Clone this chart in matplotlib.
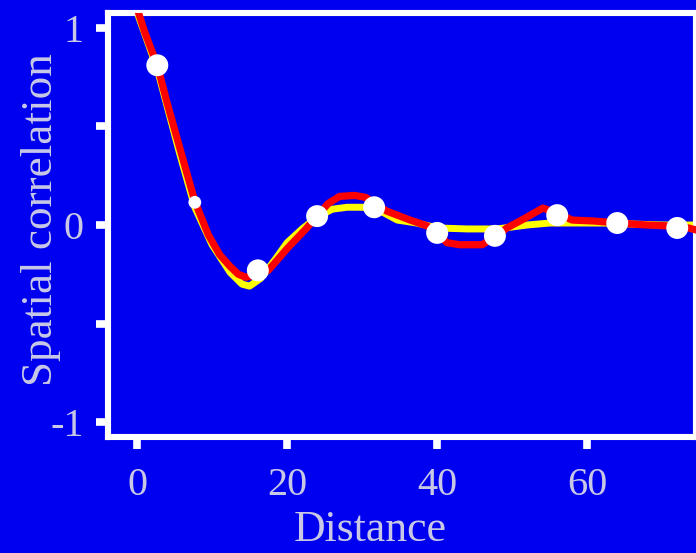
import numpy as np
import matplotlib
matplotlib.use("Agg")
import matplotlib.pyplot as plt

BG = "#0000f0"
TXT = "#c8c8e6"

# model curve (red)
fit_x = [0.0, 1.0, 2.7, 4.0, 5.7, 7.7, 9.5, 11.0, 12.4, 13.5, 14.5, 15.5, 17.5,
         20.0, 22.5, 24.0, 25.5, 27.0, 29.0, 30.5, 32.0, 33.3, 36.4, 38.7, 40.0,
         41.3, 43.0, 46.0, 47.7, 49.3, 51.5, 54.1, 56.0, 58.0, 61.0, 64.0,
         68.0, 71.0, 73.5, 75.0]
fit_y = [1.10, 0.98, 0.81, 0.62, 0.39, 0.12, -0.05, -0.15, -0.21, -0.25, -0.265,
         -0.255, -0.23, -0.12, -0.02, 0.045, 0.11, 0.145, 0.15, 0.14, 0.10, 0.07,
         0.025, -0.005, -0.04, -0.09, -0.10, -0.10, -0.06, -0.015, 0.03, 0.086,
         0.06, 0.025, 0.02, 0.01, 0.0, -0.005, -0.015, -0.03]

# smoothed curve (yellow)
smooth_x = [0.0, 2.7, 5.7, 7.7, 10.0, 12.4, 14.0, 15.0, 16.5, 18.5, 20.0, 22.0,
            24.0, 26.0, 28.0, 30.0, 32.0, 34.7, 37.3, 40.0, 44.0, 48.0, 52.0,
            55.0, 58.0, 62.0, 66.0, 70.0, 75.0]
smooth_y = [1.08, 0.79, 0.36, 0.09, -0.10, -0.24, -0.30, -0.31, -0.27, -0.17,
            -0.09, -0.02, 0.04, 0.08, 0.09, 0.09, 0.08, 0.025, 0.01, -0.015,
            -0.02, -0.02, 0.0, 0.01, 0.01, 0.01, 0.005, 0.0, 0.0]

# measured points
obs_x = [2.7, 7.7, 16.1, 24.0, 31.6, 40.0, 47.7, 56.0, 64.0, 72.0]
obs_y = [0.81, 0.115, -0.23, 0.045, 0.09, -0.04, -0.055, 0.05, 0.01, -0.015]

xticks = [0, 20, 40, 60]
yticks = [-1, -0.5, 0, 0.5, 1]
ytick_labels = ["-1", "", "0", "", "1"]

plt.rcParams["font.family"] = ["Liberation Serif", "DejaVu Serif"]

fig = plt.figure(figsize=(6.96, 5.53), dpi=100, facecolor=BG)
ax = fig.add_axes([108/696, 1-437/553, 1-108/696, (437-13)/553])
ax.set_facecolor(BG)

ax.plot(smooth_x, smooth_y, color="#ffff00", linewidth=5, solid_capstyle="round",
        solid_joinstyle="round", zorder=2)
ax.plot(fit_x, fit_y, color="#ff0000", linewidth=5.2, solid_capstyle="round",
        solid_joinstyle="round", zorder=3)

sizes = np.full(len(obs_x), 250.0)
sizes[1] = 85.0
ax.scatter(obs_x, obs_y, s=sizes, color="white", edgecolors="none", zorder=4)

ax.set_xlim(-3.87, 74.5)
ax.set_ylim(-1.075, 1.075)

for sp in ax.spines.values():
    sp.set_color("white")
    sp.set_linewidth(4.4)

ax.set_xticks(xticks)
ax.set_xticklabels([str(t) for t in xticks])
ax.set_yticks(yticks)
ax.set_yticklabels(ytick_labels)
ax.tick_params(direction="out", length=8.5, width=5.5, color="white",
               labelcolor=TXT, labelsize=29)
ax.tick_params(axis="x", pad=13)
ax.tick_params(axis="y", pad=9)

ax.set_xlabel("Distance", color=TXT, fontsize=31.5)
ax.set_ylabel("Spatial correlation", color=TXT, fontsize=32.5)
ax.xaxis.set_label_coords(0.446, -0.173)
ax.yaxis.set_label_coords(-0.08, 0.512)

fig.savefig("out.png", dpi=100, facecolor=BG)
